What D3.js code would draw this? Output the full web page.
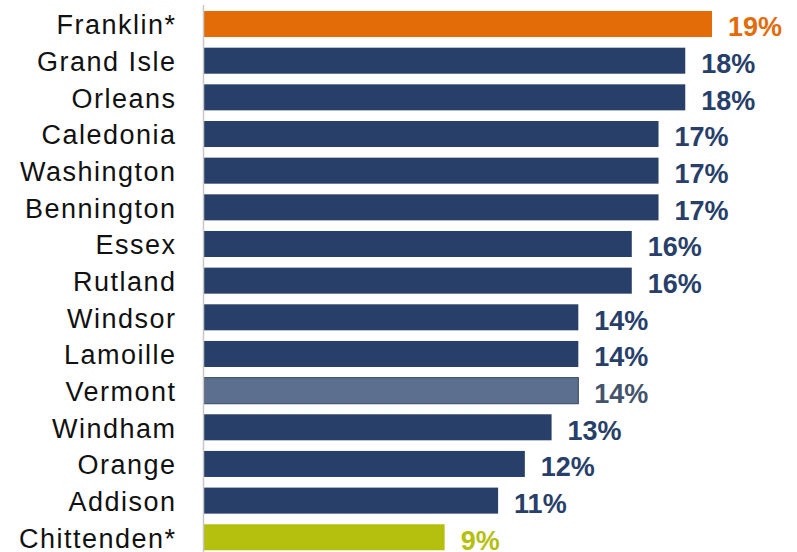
<!DOCTYPE html>
<html>
<head>
<meta charset="utf-8">
<script src="https://cdn.jsdelivr.net/npm/d3@7"></script>
<style>
  body { margin: 0; background: #fff; }
  svg { display: block; }
</style>
</head>
<body>
<svg id="chart" width="797" height="552"></svg>
<script>
// data
const counties = ["Franklin*", "Grand Isle", "Orleans", "Caledonia", "Washington", "Bennington",
    "Essex", "Rutland", "Windsor", "Lamoille", "Vermont", "Windham", "Orange", "Addison", "Chittenden*"];
const rates = [19, 18, 18, 17, 17, 17, 16, 16, 14, 14, 14, 13, 12, 11, 9];

const c_navy = "#283f69", c_orange = "#e36c09", c_green = "#b5bf0d", c_state = "#5c6f8f";

function bar_color(name) {
    if (name == "Franklin*") return c_orange;
    if (name == "Chittenden*") return c_green;
    if (name == "Vermont") return c_state;
    return c_navy;
}
function text_color(name) {
    if (name == "Vermont") return "#44546a";
    return bar_color(name);
}

const svg = d3.select("#chart");
const x0 = 204;
const x = d3.scaleLinear().domain([0, 19]).range([x0, 712]);
const y = d3.scaleBand().domain(counties).range([5.7, 555.6]).paddingInner(0.29).paddingOuter(0.145);

// bars
svg.selectAll(".bar").data(counties).join("rect").classed("bar", true)
    .attr("x", x(0))
    .attr("y", d => y(d))
    .attr("width", (d, i) => x(rates[i]) - x(0))
    .attr("height", y.bandwidth())
    .attr("fill", d => bar_color(d))
    .attr("stroke", d => d == "Vermont" ? "#44546a" : "none")
    .attr("stroke-width", 1.2);

// axis line
svg.append("line")
    .attr("x1", x0 - 0.5).attr("x2", x0 - 0.5)
    .attr("y1", 5).attr("y2", 552)
    .attr("stroke", "#c8c8c8").attr("stroke-width", 1.5);

// category labels
svg.selectAll(".cat").data(counties).join("text").classed("cat", true)
    .attr("x", 176.5)
    .attr("y", d => y(d) + y.bandwidth() / 2 + 1)
    .attr("dy", "0.35em")
    .attr("text-anchor", "end")
    .style("font-family", "Liberation Sans, Arial, sans-serif")
    .style("font-size", "27px")
    .style("letter-spacing", "1.5px")
    .style("fill", "#111")
    .text(d => d);

// value labels
svg.selectAll(".val").data(counties).join("text").classed("val", true)
    .attr("x", (d, i) => x(rates[i]) + 16)
    .attr("y", d => y(d) + y.bandwidth() / 2 + 3)
    .attr("dy", "0.35em")
    .style("font-family", "Liberation Sans, Arial, sans-serif")
    .style("font-size", "27px")
    .style("font-weight", "bold")
    .style("fill", d => text_color(d))
    .text((d, i) => rates[i] + "%");
</script>
</body>
</html>
